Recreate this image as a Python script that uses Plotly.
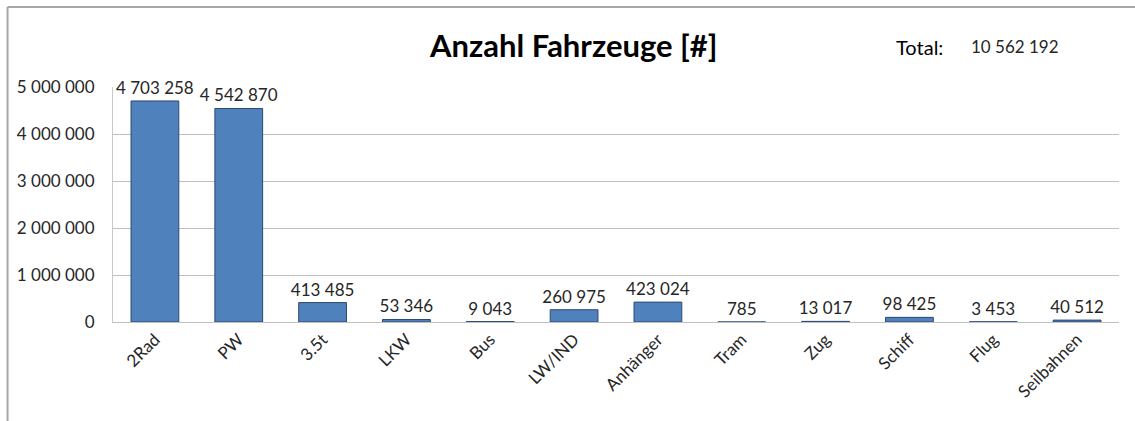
import plotly.graph_objects as go

categories = ["2Rad", "PW", "3.5t", "LKW", "Bus", "LW/IND", "Anhänger", "Tram", "Zug", "Schiff", "Flug", "Seilbahnen"]
values = [4703258, 4542870, 413485, 53346, 9043, 260975, 423024, 785, 13017, 98425, 3453, 40512]
total_value = 10562192
title_text = "Anzahl Fahrzeuge [#]"
y_ticks = [0, 1000000, 2000000, 3000000, 4000000, 5000000]


def fmt(v):
    return f"{v:,}".replace(",", " ")


labels = [fmt(v) for v in values]
FONT = "Lato, Calibri, Carlito, sans-serif"

W, H = 1135, 421
L, R, T, B = 112.5, 1119, 87, 322  # plot area in pixels


def px(x):
    return (x - L) / (R - L)


def py(y):
    return (B - y) / (B - T)


fig = go.Figure(
    go.Bar(
        x=categories,
        y=values,
        text=labels,
        textposition="outside",
        constraintext="none",
        cliponaxis=False,
        textfont=dict(family=FONT, size=17, color="#262626"),
        marker=dict(color="#4f81bd", line=dict(color="#2c4a70", width=1)),
        hoverinfo="x+y",
    )
)

fig.update_layout(
    width=W,
    height=H,
    margin=dict(l=L, r=W - R, t=T, b=H - B, pad=0),
    paper_bgcolor="white",
    plot_bgcolor="white",
    bargap=0.43,
    showlegend=False,
    separators=", ",
    font=dict(family=FONT, color="#262626"),
    xaxis=dict(
        tickangle=-45,
        tickfont=dict(family=FONT, size=17, color="#262626"),
        showline=True,
        linecolor="#bfbfbf",
        linewidth=1,
        showgrid=False,
        ticks="",
    ),
    yaxis=dict(
        range=[0, 5000000],
        tickvals=y_ticks,
        ticktext=[fmt(v) for v in y_ticks],
        tickfont=dict(family=FONT, size=17, color="#262626"),
        showgrid=True,
        gridcolor="#c0c0c0",
        gridwidth=1,
        showline=True,
        linecolor="#c8c8c8",
        linewidth=1,
        zeroline=False,
        ticks="",
        ticklabelstandoff=14,
    ),
    annotations=[
        dict(text=f"<b>{title_text}</b>", x=px(573), y=py(45), xref="paper", yref="paper",
             showarrow=False, xanchor="center", yanchor="middle",
             font=dict(family=FONT, size=31, color="black")),
        dict(text="Total:", x=px(919), y=py(47), xref="paper", yref="paper",
             showarrow=False, xanchor="center", yanchor="middle",
             font=dict(family=FONT, size=20, color="black")),
        dict(text=fmt(total_value), x=px(1015), y=py(46), xref="paper", yref="paper",
             showarrow=False, xanchor="center", yanchor="middle",
             font=dict(family=FONT, size=17, color="#262626")),
    ],
    shapes=[
        dict(type="line", xref="paper", yref="paper", x0=px(7), x1=px(1135), y0=py(7), y1=py(7),
             line=dict(color="#a6a6a6", width=2)),
        dict(type="line", xref="paper", yref="paper", x0=px(7), x1=px(7), y0=py(7), y1=py(421),
             line=dict(color="#a6a6a6", width=2)),
    ],
)

fig.write_html(
    "out.html",
    config={"displayModeBar": False},
    post_script="document.body.style.margin='0';document.body.style.padding='0';",
)
